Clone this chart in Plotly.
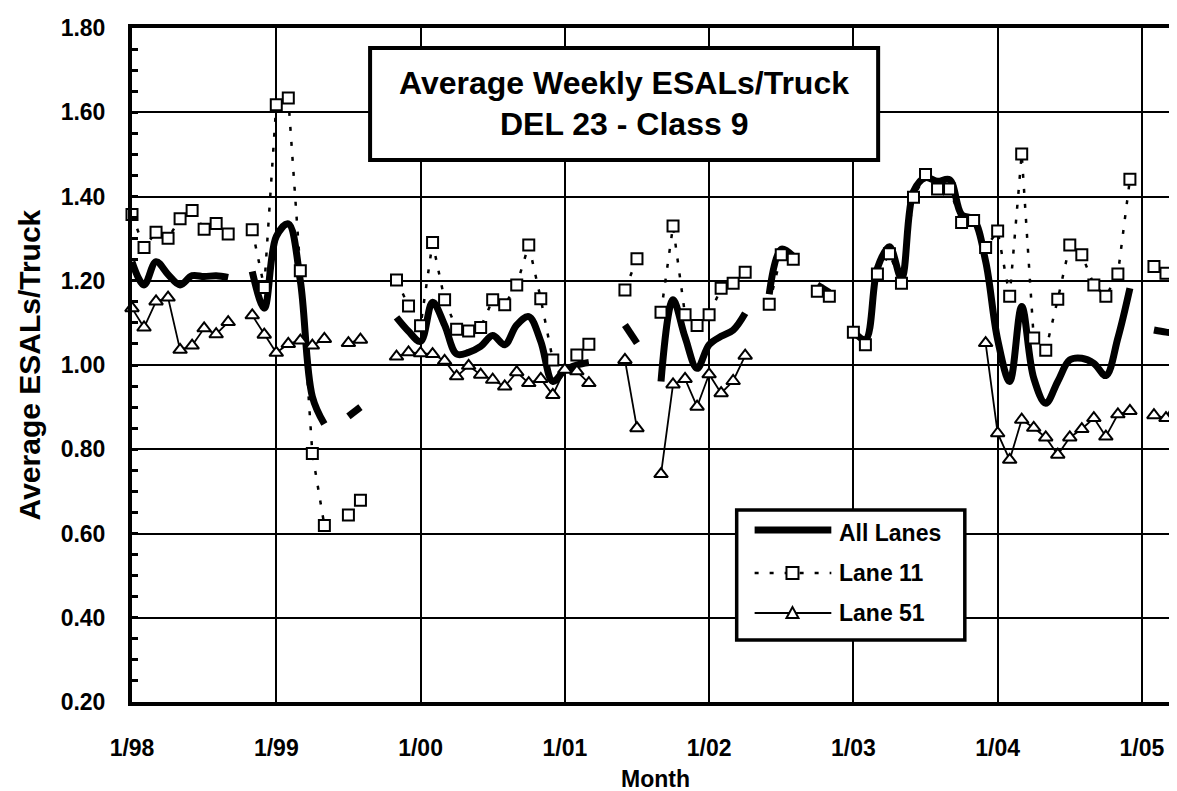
import plotly.graph_objects as go

# ---------------- data (month index 0 = Jan 1998) ----------------
months = list(range(88))
tick_months = [0, 12, 24, 36, 48, 60, 72, 84]
tick_labels = ["1/98", "1/99", "1/00", "1/01", "1/02", "1/03", "1/04", "1/05"]

all_lanes = [
    1.245, 1.19, 1.245, 1.215, 1.19, 1.212, 1.21, 1.212, 1.208, None,
    1.222, 1.135, 1.305, 1.335, 1.20, 0.925, 0.86, None, 0.878, 0.900,
    None, None, 1.113, 1.080, 1.056, 1.149, 1.095, 1.026, 1.030, 1.044,
    1.070, 1.048, 1.095, 1.115, 1.056, 0.961, 0.988, 1.000, 1.006, None,
    None, 1.095, 1.052, None, 0.961, 1.155, 1.066, 0.992, 1.048, 1.068,
    1.083, 1.123, None, 1.168, 1.275, 1.258, None, 1.19, 1.172, None,
    1.080, 1.060, 1.230, 1.281, 1.206, 1.412, 1.445, 1.436, 1.440, 1.357,
    1.345, 1.246, 1.06, 0.961, 1.139, 0.969, 0.909, 0.961, 1.012, 1.016,
    1.004, 0.975, 1.064, 1.182, None, 1.083, 1.078, 1.075,
]

lane_11 = [
    1.357, 1.279, 1.315, 1.301, 1.347, 1.367, 1.322, 1.336, 1.311, None,
    1.321, 1.184, 1.618, 1.634, 1.224, 0.790, 0.619, None, 0.644, 0.679,
    None, None, 1.202, 1.140, 1.093, 1.291, 1.155, 1.085, 1.081, 1.089,
    1.155, 1.143, 1.190, 1.285, 1.157, 1.012, None, 1.024, 1.049, None,
    None, 1.178, 1.252, None, 1.125, 1.330, 1.119, 1.094, 1.119, 1.182,
    1.194, 1.220, None, 1.144, 1.262, 1.251, None, 1.175, 1.163, None,
    1.078, 1.048, 1.216, 1.264, 1.194, 1.398, 1.452, 1.418, 1.418, 1.338,
    1.343, 1.279, 1.318, 1.163, 1.501, 1.064, 1.035, 1.156, 1.285, 1.262,
    1.190, 1.163, 1.216, 1.441, None, 1.234, 1.218, 1.181,
]

lane_51 = [
    1.135, 1.089, 1.151, 1.160, 1.036, 1.046, 1.087, 1.073, 1.102, None,
    1.118, 1.072, 1.029, 1.050, 1.058, 1.046, 1.062, None, 1.052, 1.060,
    None, None, 1.020, 1.030, 1.028, 1.026, 1.010, 0.973, 0.998, 0.977,
    0.965, 0.949, 0.983, 0.957, 0.967, 0.929, 0.989, 0.985, 0.957, None,
    None, 1.012, 0.850, None, 0.741, 0.954, 0.967, 0.901, 0.978, 0.933,
    0.962, 1.022, None, None, None, None, None, None, None, None,
    None, None, None, None, None, None, None, None, None, None,
    None, 1.052, 0.838, 0.775, 0.870, 0.851, 0.828, 0.787, 0.828, 0.848,
    0.874, 0.830, 0.883, 0.891, None, 0.881, 0.874, 0.929,
]

series_names = ["All Lanes", "Lane 11", "Lane 51"]
title_lines = ["Average Weekly ESALs/Truck", "DEL 23 - Class 9"]

# ---------------- layout geometry ----------------
W, H = 1177, 791
ML, MR, MT, MB = 124, 3, 20, 97
PW, PH = W - ML - MR, H - MT - MB
FONT = "Liberation Sans, Arial, sans-serif"


def px(x):
    return (x - ML) / PW


def py(y):
    return (H - MB - y) / PH


fig = go.Figure()

fig.add_trace(go.Scatter(
    x=months, y=all_lanes, name=series_names[0], mode="lines",
    line=dict(color="black", width=7, shape="spline", smoothing=1.0),
    connectgaps=False, showlegend=False,
))
fig.add_trace(go.Scatter(
    x=months, y=lane_11, name=series_names[1], mode="lines+markers",
    line=dict(color="black", width=2.5, dash="4px,11px"),
    marker=dict(symbol="square", size=11, color="white",
                line=dict(color="black", width=2)),
    connectgaps=False, showlegend=False, cliponaxis=False,
))
fig.add_trace(go.Scatter(
    x=months, y=lane_51, name=series_names[2], mode="lines+markers",
    line=dict(color="black", width=1.8),
    marker=dict(symbol="triangle-up", size=12, color="white",
                line=dict(color="black", width=2)),
    connectgaps=False, showlegend=False, cliponaxis=False,
))

bold = dict(family=FONT, color="black", weight="bold")

fig.update_layout(
    width=W, height=H,
    margin=dict(l=ML, r=MR, t=MT, b=MB, pad=0),
    paper_bgcolor="white", plot_bgcolor="white",
    showlegend=False,
    xaxis=dict(
        range=[0, 87], tickmode="array", tickvals=tick_months, ticktext=tick_labels,
        showgrid=True, gridcolor="black", gridwidth=2,
        showline=True, linecolor="black", linewidth=4, mirror=True,
        ticks="", zeroline=False, ticklabelstandoff=22,
        tickfont=dict(size=23, **bold),
    ),
    yaxis=dict(
        range=[0.2, 1.8], tick0=0.2, dtick=0.2, tickformat=".2f",
        showgrid=True, gridcolor="black", gridwidth=2,
        showline=True, linecolor="black", linewidth=4, mirror=True,
        ticks="inside", ticklen=6, tickwidth=3, tickcolor="black",
        minor=dict(dtick=0.05, ticks="inside", ticklen=6, tickwidth=3,
                   tickcolor="black", showgrid=False),
        zeroline=False, ticklabelstandoff=18,
        tickfont=dict(size=23, **bold),
    ),
)

shapes = []
# title box
shapes.append(dict(type="rect", xref="paper", yref="paper",
                   x0=px(363), x1=px(873), y0=py(152), y1=py(40),
                   fillcolor="white", line=dict(color="black", width=4), layer="above"))
# legend box
shapes.append(dict(type="rect", xref="paper", yref="paper",
                   x0=px(731), x1=px(960), y0=py(632), y1=py(502),
                   fillcolor="white", line=dict(color="black", width=3.5), layer="above"))
# legend samples
shapes.append(dict(type="line", xref="paper", yref="paper",
                   x0=px(749), x1=px(826), y0=py(522), y1=py(522),
                   line=dict(color="black", width=7), layer="above"))
shapes.append(dict(type="line", xref="paper", yref="paper",
                   x0=px(749), x1=px(826), y0=py(565), y1=py(565),
                   line=dict(color="black", width=2.5, dash="4px,11px"), layer="above"))
shapes.append(dict(type="line", xref="paper", yref="paper",
                   x0=px(749), x1=px(826), y0=py(605), y1=py(605),
                   line=dict(color="black", width=1.8), layer="above"))
shapes.append(dict(type="rect", xref="paper", yref="paper",
                   xsizemode="pixel", ysizemode="pixel",
                   xanchor=px(787), yanchor=py(565), x0=-6, x1=6, y0=-6, y1=6,
                   fillcolor="white", line=dict(color="black", width=2), layer="above"))
shapes.append(dict(type="path", xref="paper", yref="paper",
                   xsizemode="pixel", ysizemode="pixel",
                   xanchor=px(787), yanchor=py(605),
                   path="M-6,-5 L6,-5 L0,6 Z",
                   fillcolor="white", line=dict(color="black", width=2), layer="above"))
fig.update_layout(shapes=shapes)

ann = []
ann.append(dict(text=title_lines[0], xref="paper", yref="paper", x=px(618), y=py(75),
                xanchor="center", yanchor="middle", showarrow=False,
                font=dict(size=32, **bold)))
ann.append(dict(text=title_lines[1], xref="paper", yref="paper", x=px(618), y=py(116),
                xanchor="center", yanchor="middle", showarrow=False,
                font=dict(size=32, **bold)))
for name, yy in zip(series_names, [525, 565, 605]):
    ann.append(dict(text=name, xref="paper", yref="paper", x=px(832), y=py(yy),
                    xanchor="left", yanchor="middle", showarrow=False,
                    font=dict(size=23, **bold)))
ann.append(dict(text="Average ESALs/Truck", xref="paper", yref="paper",
                x=px(21), y=py(357), xanchor="center", yanchor="middle",
                textangle=-90, showarrow=False, font=dict(size=30, **bold)))
ann.append(dict(text="Month", xref="paper", yref="paper",
                x=0.5, y=py(771), xanchor="center", yanchor="middle",
                showarrow=False, font=dict(size=23, **bold)))
fig.update_layout(annotations=ann)

fig.write_html("out.html")
